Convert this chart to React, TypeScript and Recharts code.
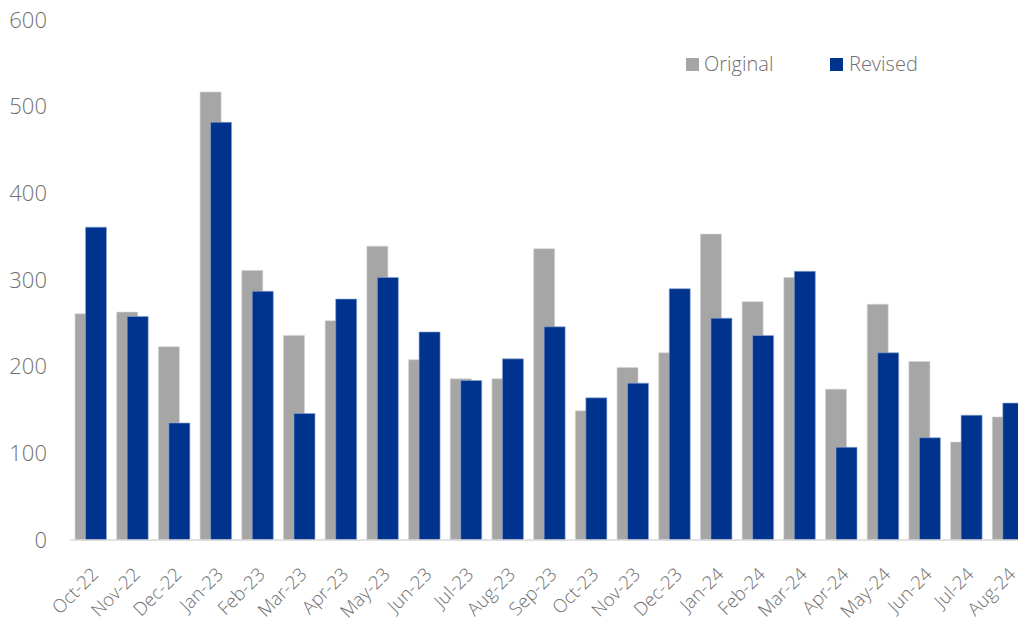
import React from "react";
import { BarChart, Bar, XAxis, YAxis } from "recharts";

const months = ["Oct-22","Nov-22","Dec-22","Jan-23","Feb-23","Mar-23","Apr-23","May-23","Jun-23","Jul-23","Aug-23","Sep-23","Oct-23","Nov-23","Dec-23","Jan-24","Feb-24","Mar-24","Apr-24","May-24","Jun-24","Jul-24","Aug-24"];
const original = [261, 263, 223, 517, 311, 236, 253, 339, 208, 186, 186, 336, 149, 199, 216, 353, 275, 303, 174, 272, 206, 113, 142];
const revised = [361, 258, 135, 482, 287, 146, 278, 303, 240, 184, 209, 246, 164, 181, 290, 256, 236, 310, 107, 216, 118, 144, 158];
const yTicks = [0, 100, 200, 300, 400, 500, 600];
const seriesNames = ["Original", "Revised"];

const data = months.map((m, i) => ({ month: m, Original: original[i], Revised: revised[i] }));

const FONT = "'Open Sans', 'Noto Sans', sans-serif";
const TEXT = "#707070";
const GRAY = "#a6a6a6";
const BLUE = "#00338d";

const XTick = (props: any) => {
  const { x, y, payload } = props;
  return (
    <g transform={`translate(${x + 4},${y + 23})`}>
      <text
        transform="rotate(-45)"
        textAnchor="end"
        fill={TEXT}
        fontSize={18.5}
        fontFamily={FONT}
        fontWeight={300}
        dy="0.35em"
      >
        {payload.value}
      </text>
    </g>
  );
};

export default function App() {
  return (
    <div style={{ position: "absolute", left: 0, top: 0, width: 1018, height: 623, overflow: "hidden", background: "#fff" }}>
      <BarChart
        width={1029}
        height={623}
        data={data}
        margin={{ top: 20, right: 0, bottom: 0, left: 10 }}
        barSize={21}
        barGap={-10.5}
      >
        <XAxis
          dataKey="month"
          interval={0}
          height={83}
          tickLine={false}
          axisLine={{ stroke: "#d9d9d9", strokeWidth: 1.5 }}
          tick={<XTick />}
        />
        <YAxis
          domain={[0, 600]}
          ticks={yTicks}
          width={60}
          axisLine={false}
          tickLine={false}
          tickSize={0}
          tickMargin={23}
          tick={{ fill: TEXT, fontSize: 22, fontFamily: FONT, fontWeight: 300 }}
        />
        <Bar dataKey="Original" fill={GRAY} stroke="#d4d4d4" strokeWidth={0.6} isAnimationActive={false} />
        <Bar dataKey="Revised" fill={BLUE} stroke="#8fa6cf" strokeWidth={0.6} isAnimationActive={false} />
      </BarChart>
      <div style={{ position: "absolute", left: 686, top: 50, display: "flex", fontFamily: FONT, fontWeight: 300, fontSize: 20, color: TEXT, lineHeight: "28px" }}>
        <div style={{ display: "flex", alignItems: "center", width: 144 }}>
          <span style={{ display: "inline-block", width: 13, height: 13, background: GRAY, marginRight: 5 }} />
          <span>{seriesNames[0]}</span>
        </div>
        <div style={{ display: "flex", alignItems: "center" }}>
          <span style={{ display: "inline-block", width: 13, height: 13, background: BLUE, marginRight: 6 }} />
          <span>{seriesNames[1]}</span>
        </div>
      </div>
    </div>
  );
}
